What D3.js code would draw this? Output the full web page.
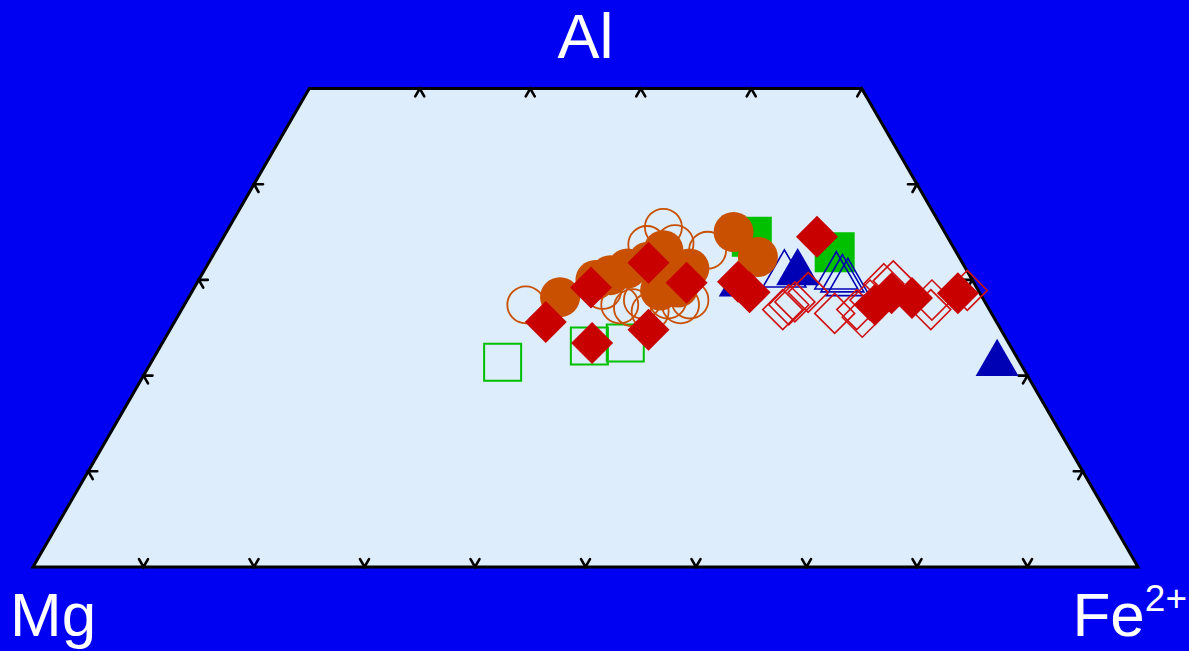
<!DOCTYPE html>
<html>
<head>
<meta charset="utf-8">
<script src="https://cdn.jsdelivr.net/npm/d3@7"></script>
<style>
  html, body { margin: 0; padding: 0; background: #0000f2; }
  svg { display: block; }
  text { font-family: "Liberation Sans", Arial, sans-serif; fill: #ffffff; }
</style>
</head>
<body>
<svg id="chart" width="1189" height="651"></svg>
<script>
// Compositions as [Al %, Fe2+ %]; Mg makes up the remainder.
const greenOpenSquares = [[21.4, 31.8], [23.1, 38.8], [23.4, 41.9]];
const greenFilledSquares = [[34.5, 47.8], [32.9, 56.1]];

const blueOpenTriangles = [[31.2, 52.4], [31.0, 57.2], [30.7, 57.9], [30.3, 58.6]];
const blueFilledTriangles = [[30.2, 48.9], [31.4, 53.5], [21.9, 76.3]];

const orangeOpenCircles = [
  [27.4, 30.9], [35.5, 39.3], [33.7, 38.7], [33.8, 41.2], [33.1, 44.5],
  [27.4, 39.4], [27.1, 40.7], [27.9, 41.2], [27.4, 44.9], [27.9, 45.5],
  [28.9, 37.1], [27.9, 43.5], [26.7, 42.5]
];
const orangeFilledCircles = [
  [28.2, 33.6], [30.0, 35.9], [30.5, 37.0], [31.2, 38.2], [31.9, 39.7],
  [33.1, 40.5], [31.0, 42.3], [31.2, 43.8], [28.9, 42.3], [29.2, 43.8],
  [35.0, 45.9], [32.4, 49.4]
];

const redOpenDiamonds = [
  [26.9, 54.4], [27.4, 54.7], [27.7, 55.1], [28.7, 55.8], [26.5, 59.3],
  [26.9, 61.1], [26.1, 62.0], [27.9, 61.8], [29.6, 62.2], [29.9, 62.9],
  [27.9, 67.4], [26.9, 67.8], [28.9, 70.1]
];
const redFilledDiamonds = [
  [25.6, 33.6], [29.2, 35.9], [23.4, 38.9], [24.8, 43.3], [31.8, 39.8],
  [29.7, 44.3], [29.8, 48.9], [28.7, 50.5], [34.5, 53.7], [27.4, 62.5],
  [28.6, 63.4], [28.1, 65.5], [28.6, 69.4]
];

// Tick positions (percent) along each side of the truncated triangle.
const bottomTicks = [10, 20, 30, 40, 50, 60, 70, 80, 90];   // Fe2+ along Al = 0
const topTicks = [10, 20, 30, 40, 50];                      // Fe2+ along Al = 50
const sideTicks = [10, 20, 30, 40];                         // Al along Mg and Fe2+ sides
const alMax = 50;

const svg = d3.select("#chart");
const W = 1189, H = 651;

svg.append("rect").attr("width", W).attr("height", H).attr("fill", "#0000f2");

// Horizontal scale runs along the base (Fe2+ + Al/2); vertical scale maps Al.
const x0 = 33, x1 = 1138, yBase = 567;
const side = x1 - x0;
const fullHeight = side * Math.sqrt(3) / 2;
const x = d3.scaleLinear().domain([0, 100]).range([x0, x1]);
const y = d3.scaleLinear().domain([0, 100]).range([yBase, yBase - fullHeight]);

const pt = (al, fe) => [x(fe + al / 2), y(al)];

// Plot area: Mg corner, Fe2+ corner, and the cut at Al = 50 %.
const outline = [pt(0, 0), pt(0, 100), pt(alMax, 100 - alMax), pt(alMax, 0)];
svg.append("path")
  .attr("d", d3.line()(outline) + "Z")
  .attr("fill", "#ddedfc")
  .attr("stroke", "#000")
  .attr("stroke-width", 3)
  .attr("stroke-linejoin", "miter");

// Tick marks: two short strokes along the grid directions that cross each side.
const c60 = 0.5, s60 = Math.sqrt(3) / 2, tl = 9;
const dirs = {
  upLeft: [-c60, -s60], upRight: [c60, -s60],
  downLeft: [-c60, s60], downRight: [c60, s60],
  left: [-1, 0], right: [1, 0]
};
const ticks = [];
bottomTicks.forEach(v => ticks.push({ p: pt(0, v), d: ["upLeft", "upRight"] }));
topTicks.forEach(v => ticks.push({ p: pt(alMax, v), d: ["downLeft", "downRight"] }));
sideTicks.forEach(v => ticks.push({ p: pt(v, 0), d: ["right", "downRight"] }));
sideTicks.forEach(v => ticks.push({ p: pt(v, 100 - v), d: ["left", "downLeft"] }));

const tickG = svg.append("g").attr("stroke", "#000").attr("stroke-width", 2.6)
  .attr("stroke-linecap", "round").attr("fill", "none");
ticks.forEach(t => {
  const [a, b] = t.d.map(k => dirs[k]);
  tickG.append("path").attr("d",
    `M${t.p[0] + a[0] * tl},${t.p[1] + a[1] * tl}L${t.p[0]},${t.p[1]}L${t.p[0] + b[0] * tl},${t.p[1] + b[1] * tl}`);
});

// Marker shapes centred on the origin.
const squarePath = s => `M${-s / 2},${-s / 2}h${s}v${s}h${-s}Z`;
const diamondPath = r => `M0,${-r}L${r},0L0,${r}L${-r},0Z`;
const trianglePath = w => {
  const h = w * Math.sqrt(3) / 2;
  return `M0,${-h / 2}L${w / 2},${h / 2}L${-w / 2},${h / 2}Z`;
};

function plot(data, shape, fill, stroke, strokeWidth) {
  svg.append("g").selectAll("path").data(data).join("path")
    .attr("transform", d => { const p = pt(d[0], d[1]); return `translate(${p[0]},${p[1]})`; })
    .attr("d", shape)
    .attr("fill", fill)
    .attr("stroke", stroke)
    .attr("stroke-width", strokeWidth);
}

plot(greenOpenSquares, squarePath(37), "none", "#00c000", 2);
plot(greenFilledSquares, squarePath(40), "#00c000", "none", 0);
plot(blueOpenTriangles, trianglePath(43), "none", "#0000b4", 1.6);
plot(blueFilledTriangles, trianglePath(43), "#0000b4", "none", 0);
svg.append("g").selectAll("circle").data(orangeOpenCircles).join("circle")
  .attr("cx", d => pt(d[0], d[1])[0]).attr("cy", d => pt(d[0], d[1])[1])
  .attr("r", 18.5).attr("fill", "none").attr("stroke", "#c85000").attr("stroke-width", 1.8);
svg.append("g").selectAll("circle").data(orangeFilledCircles).join("circle")
  .attr("cx", d => pt(d[0], d[1])[0]).attr("cy", d => pt(d[0], d[1])[1])
  .attr("r", 20).attr("fill", "#c85000");
plot(redOpenDiamonds, diamondPath(20), "none", "#d01010", 1.6);
plot(redFilledDiamonds, diamondPath(21), "#c80000", "none", 0);

// Corner labels
svg.append("text").attr("x", x(50)).attr("y", 58).attr("text-anchor", "middle")
  .attr("font-size", 63).text("Al");
svg.append("text").attr("x", 10).attr("y", 636).attr("font-size", 62).text("Mg");
const fe = svg.append("text").attr("x", 1187).attr("y", 636).attr("text-anchor", "end")
  .attr("font-size", 62);
fe.append("tspan").text("Fe");
fe.append("tspan").attr("font-size", 37).attr("dy", -25).text("2+");
</script>
</body>
</html>
